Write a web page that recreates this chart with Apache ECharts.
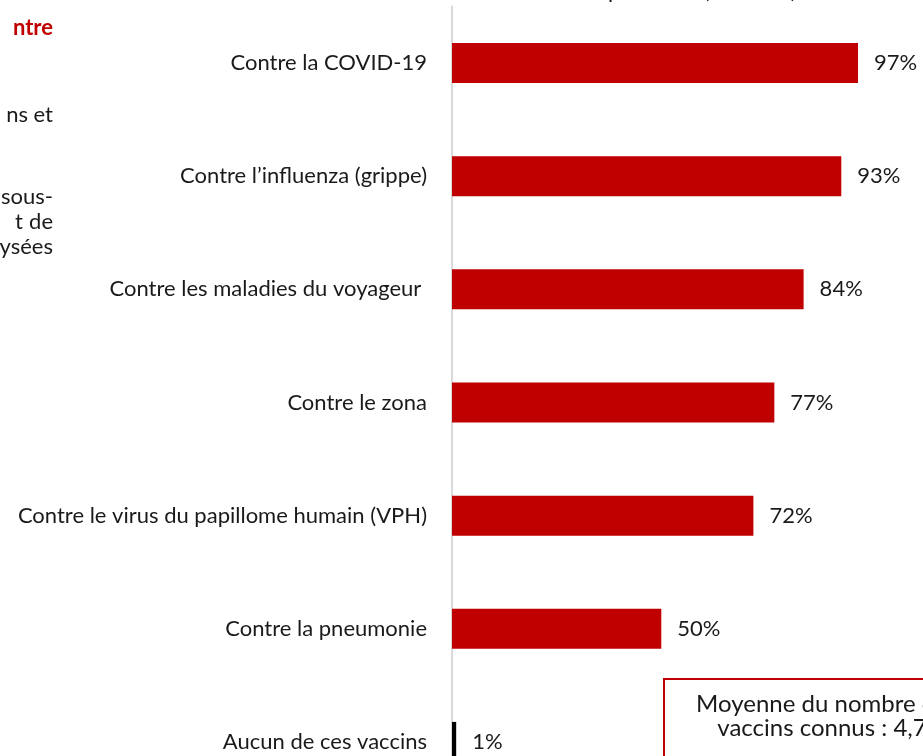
<!DOCTYPE html>
<html lang="fr">
  <head>
    <meta charset="UTF-8" />
    <title>Vaccins connus</title>
    <style>
      html,
      body {
        margin: 0;
        padding: 0;
        background: #fff;
      }
      #main {
        width: 923px;
        height: 756px;
      }
    </style>
  </head>
  <body>
    <div id="main"></div>
    <script src="https://cdn.jsdelivr.net/npm/echarts@6/dist/echarts.min.js"></script>
    <script>
      // données
      const categories = [
        "Contre la COVID-19",
        "Contre l’influenza (grippe)",
        "Contre les maladies du voyageur ",
        "Contre le zona",
        "Contre le virus du papillome humain (VPH)",
        "Contre la pneumonie",
        "Aucun de ces vaccins",
      ];
      const values = [97, 93, 84, 77, 72, 50, 1];
      const barColors = ["#c00000", "#c00000", "#c00000", "#c00000", "#c00000", "#c00000", "#000000"];
      const moyenne = "4,7";

      const FONT = "Lato";
      const FS = 22;
      const myChart = echarts.init(document.getElementById("main"));

      const option = {
        animation: false,
        textStyle: { fontFamily: FONT },
        // la grille déborde en bas de la fenêtre (image recadrée)
        grid: { left: 452, width: 418.6, top: 6.5, height: 792, containLabel: false, outerBoundsMode: "none" },
        xAxis: {
          type: "value",
          min: 0,
          max: 100,
          show: false,
        },
        yAxis: {
          type: "category",
          inverse: true,
          data: categories,
          axisLine: { show: true, lineStyle: { color: "#d9d9d9", width: 2 } },
          axisTick: { show: false },
          axisLabel: { margin: 25, fontSize: FS, color: "#1a1a1a", fontFamily: FONT },
        },
        series: [
          {
            type: "bar",
            barWidth: 40,
            data: values.map((v, i) => ({ value: v, itemStyle: { color: barColors[i] } })),
            label: {
              show: true,
              position: "right",
              distance: 16,
              fontSize: FS,
              color: "#1a1a1a",
              fontFamily: FONT,
              formatter: "{c}%",
            },
          },
        ],
        graphic: [
          // texte coupé en haut
          {
            type: "text",
            left: 451,
            top: -20,
            style: { text: "Ensemble des répondants (n=1 004)", fontSize: FS, fontFamily: FONT, fill: "#1a1a1a" },
          },
          // bloc de texte coupé à gauche
          {
            type: "text",
            x: 53,
            y: 28,
            style: { text: "ntre", fontSize: FS, fontWeight: "bold", fontFamily: FONT, fill: "#c00000", align: "right", verticalAlign: "middle" },
          },
          {
            type: "text",
            x: 53,
            y: 115,
            style: { text: "ns et", fontSize: FS, fontFamily: FONT, fill: "#1a1a1a", align: "right", verticalAlign: "middle" },
          },
          {
            type: "text",
            x: 53,
            y: 197,
            style: { text: "sous-", fontSize: FS, fontFamily: FONT, fill: "#1a1a1a", align: "right", verticalAlign: "middle" },
          },
          {
            type: "text",
            x: 53,
            y: 222,
            style: { text: "de", fontSize: FS, fontFamily: FONT, fill: "#1a1a1a", align: "right", verticalAlign: "middle" },
          },
          {
            type: "text",
            x: 15,
            y: 222,
            style: { text: "t", fontSize: FS, fontFamily: FONT, fill: "#1a1a1a", align: "left", verticalAlign: "middle" },
          },
          {
            type: "text",
            x: 53,
            y: 247,
            style: { text: "ysées", fontSize: FS, fontFamily: FONT, fill: "#1a1a1a", align: "right", verticalAlign: "middle" },
          },
          // encadré moyenne
          {
            type: "rect",
            shape: { x: 664, y: 679, width: 300, height: 120 },
            style: { fill: "#fff", stroke: "#c00000", lineWidth: 2 },
          },
          {
            type: "text",
            x: 822,
            y: 716,
            style: {
              text: "Moyenne du nombre de\nvaccins connus : " + moyenne,
              fontSize: 24,
              lineHeight: 24,
              fontFamily: FONT,
              fill: "#1a1a1a",
              align: "center",
              verticalAlign: "middle",
            },
          },
        ],
      };
      myChart.setOption(option);
    </script>
  </body>
</html>
